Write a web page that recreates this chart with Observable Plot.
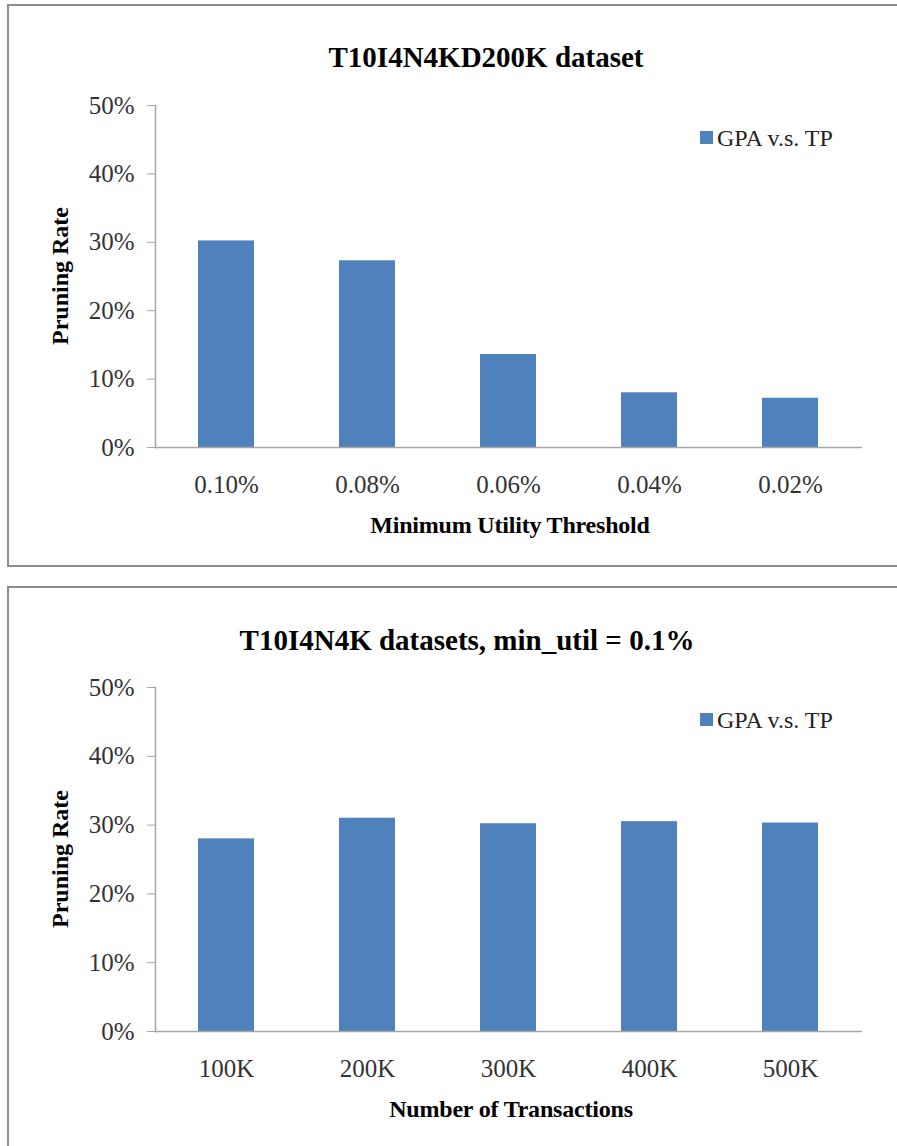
<!DOCTYPE html>
<html>
<head>
<meta charset="utf-8">
<script src="https://cdn.jsdelivr.net/npm/d3@7"></script>
<script src="https://cdn.jsdelivr.net/npm/@observablehq/plot@0.6"></script>
<style>
  html, body { margin: 0; padding: 0; background: #fff; }
  body { width: 897px; height: 1146px; position: relative; overflow: hidden; font-family: "Liberation Serif", "Times New Roman", serif; }
  .panel { position: absolute; border: 2px solid #8c8c8c; box-sizing: border-box; }
  .abs { position: absolute; white-space: nowrap; line-height: 1; }
  .title { font-weight: bold; font-size: 29px; color: #000; transform: translateX(-50%); }
  .xtitle { font-weight: bold; font-size: 24px; color: #000; transform: translateX(-50%); letter-spacing: -0.2px; }
  .ytitle { font-weight: bold; font-size: 24px; color: #000; transform: translate(-50%, -50%) rotate(-90deg); }
  .legend { font-size: 24px; color: #222; }
  .swatch { position: absolute; width: 13px; height: 13px; background: #4F81BD; }
  svg.plot { position: absolute; left: 0; }
</style>
</head>
<body>
<div class="panel" style="left:7px;top:4px;width:1000px;height:563px;"></div>
<div class="panel" style="left:7px;top:586px;width:1000px;height:600px;"></div>
<div id="root"></div>
<script>
// ---- Data ----
const thresholds = ["0.10%", "0.08%", "0.06%", "0.04%", "0.02%"];
const pruningByThreshold = [0.302, 0.273, 0.136, 0.080, 0.072];

const transactions = ["100K", "200K", "300K", "400K", "500K"];
const pruningByTransactions = [0.280, 0.310, 0.302, 0.305, 0.303];

const yTicks = [0, 0.1, 0.2, 0.3, 0.4, 0.5];
const seriesName = "GPA v.s. TP";
const titles = ["T10I4N4KD200K dataset", "T10I4N4K datasets, min_util = 0.1%"];
const xTitles = ["Minimum Utility Threshold", "Number of Transactions"];
const yTitle = "Pruning Rate";

const barColor = "#4F81BD";
const axisColor = "#a6a6a6";

function makeChart(cats, vals, opts) {
  const data = cats.map((c, i) => ({cat: c, value: vals[i]}));
  const svg = Plot.plot({
    width: 897,
    height: opts.height,
    marginLeft: 155,
    marginRight: 35,
    marginTop: opts.marginTop,
    marginBottom: opts.marginBottom,
    style: {fontFamily: "Liberation Serif, Times New Roman, serif", fontSize: "25px", background: "transparent", overflow: "visible"},
    x: {domain: cats, paddingInner: 0.6, paddingOuter: 0.3, label: null},
    y: {domain: [0, 0.5], label: null},
    marks: [
      Plot.barY(data, {x: "cat", y: "value", fill: barColor}),
      Plot.frame({anchor: "left", stroke: axisColor, strokeWidth: 1.5}),
      Plot.ruleY([0], {stroke: axisColor, strokeWidth: 1.5}),
      Plot.axisY({ticks: yTicks, tickFormat: d3.format(".0%"), tickSize: 8, tickPadding: 13, stroke: axisColor, fill: "#333", label: null}),
      Plot.axisX({tickSize: 0, tickPadding: 28, fill: "#333", label: null})
    ]
  });
  svg.classList.add("plot");
  svg.style.top = opts.top + "px";
  document.getElementById("root").appendChild(svg);
}

makeChart(thresholds, pruningByThreshold, {top: 0, height: 566, marginTop: 105, marginBottom: 119});
makeChart(transactions, pruningByTransactions, {top: 587, height: 559, marginTop: 100, marginBottom: 115});

// ---- Text (titles, legend, axis titles) ----
function addText(cls, text, left, top) {
  const d = document.createElement("div");
  d.className = "abs " + cls;
  d.textContent = text;
  d.style.left = left + "px";
  d.style.top = top + "px";
  document.body.appendChild(d);
}
function addLegend(top) {
  const s = document.createElement("div");
  s.className = "swatch";
  s.style.left = "700px";
  s.style.top = top + "px";
  document.body.appendChild(s);
  addText("legend", seriesName, 717, top - 5.2);
}
addText("title", titles[0], 486, 42.7);
addText("title", titles[1], 467, 625.7);
addText("xtitle", xTitles[0], 510, 513);
addText("xtitle", xTitles[1], 511, 1097);
addText("ytitle", yTitle, 60, 276);
addText("ytitle", yTitle, 60, 859);
addLegend(131);
addLegend(713);
</script>
</body>
</html>
